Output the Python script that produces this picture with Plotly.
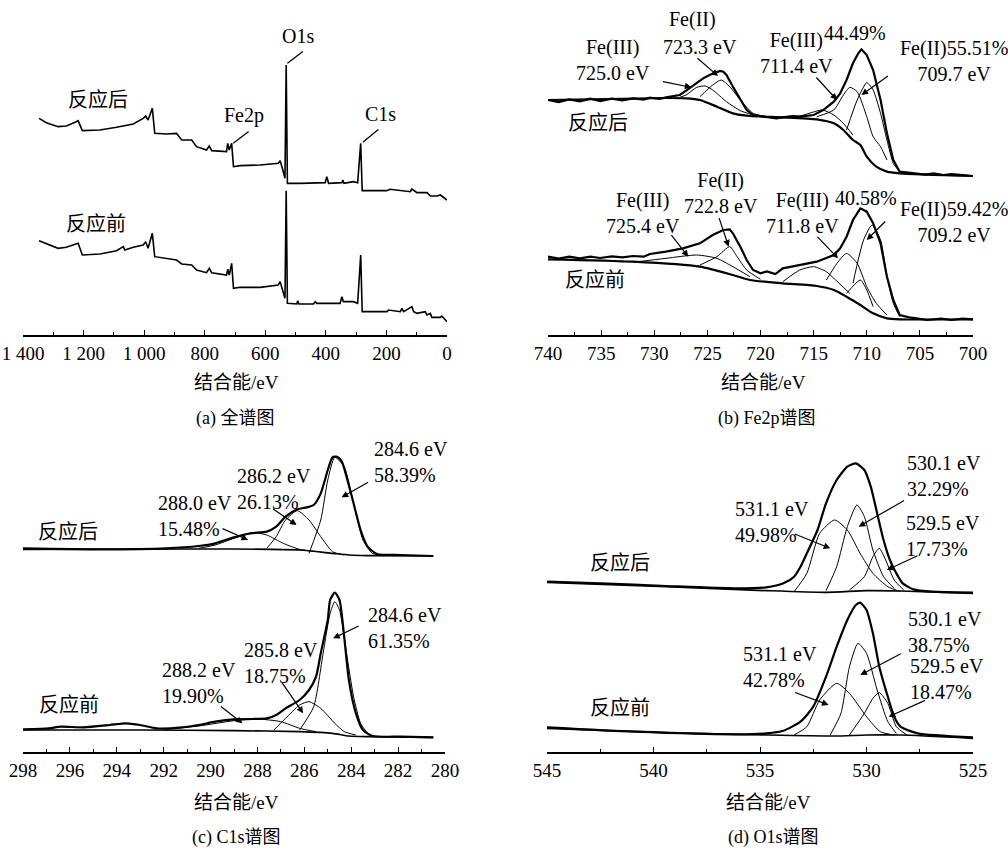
import plotly.graph_objects as go

FONT = "Liberation Serif, 'Times New Roman', 'Noto Sans CJK SC', serif"
FS = 19
FA = 20

# ---------------- (a) survey spectra ----------------
survey_be_after = [1347, 1323, 1284, 1257, 1224, 1218, 1204, 1146, 1091, 1036, 1003, 995, 987, 973, 965, 926, 893, 876, 843, 827, 794, 785, 777, 728, 724, 719, 711, 705, 683, 617, 557, 551, 542, 535, 531, 527, 485, 402, 397, 391, 347, 344, 340, 309, 295, 285, 280, 199, 188, 154, 121, 116, 99, 66, 55, 33, 22, 0]
survey_int_after = [645, 632, 620, 622, 635, 638, 608, 610, 618, 628, 645, 652, 640, 675, 600, 598, 600, 580, 580, 560, 550, 562, 548, 545, 570, 550, 570, 500, 503, 505, 510, 518, 490, 465, 805, 450, 450, 452, 470, 450, 452, 460, 450, 455, 452, 570, 428, 428, 432, 428, 425, 433, 422, 422, 412, 412, 415, 400]
survey_be_before = [1347, 1323, 1284, 1257, 1224, 1218, 1204, 1146, 1091, 1069, 1064, 1036, 1003, 995, 987, 973, 965, 926, 893, 876, 843, 827, 794, 785, 777, 728, 724, 719, 711, 705, 683, 617, 557, 551, 542, 535, 531, 527, 496, 493, 489, 441, 435, 430, 353, 347, 342, 309, 295, 285, 280, 198, 193, 154, 149, 143, 116, 110, 99, 72, 66, 55, 50, 22, 17, 0]
survey_int_before = [278, 270, 255, 258, 268, 270, 235, 238, 248, 260, 250, 258, 265, 275, 255, 300, 230, 225, 220, 208, 205, 190, 182, 195, 182, 175, 192, 175, 210, 135, 138, 138, 145, 155, 130, 105, 428, 90, 88, 98, 88, 88, 95, 90, 90, 110, 95, 95, 90, 235, 65, 65, 70, 65, 75, 65, 80, 65, 60, 65, 55, 60, 48, 48, 52, 35]

# ---------------- (b) Fe2p ----------------
fe_data_be_after = [740.0, 739, 738, 737, 736, 735.1, 734, 733, 732.0, 731, 730.4, 729.5, 728.9, 728.2, 727.6, 727.0, 726.7, 726.0, 725.4, 724.8, 724.1, 723.8, 723.5, 723.2, 722.6, 721.9, 721.3, 720.7, 719.4, 718.5, 717.9, 717, 716.3, 715.0, 714.1, 713.1, 712.5, 711.9, 711.3, 710.8, 710.5, 710.0, 709.4, 708.7, 708.1, 707.5, 706.9, 706, 705.3, 704.5, 703.7, 702.8, 702, 701, 700.0]
fe_data_int_after = [700, 694, 702, 696, 704, 697, 704, 699, 705, 701, 707, 703, 708, 712, 715, 728, 735, 750, 765, 775, 782, 787, 785, 775, 740, 700, 670, 655, 650, 645, 648, 652, 650, 655, 670, 695, 720, 760, 810, 840, 852, 835, 790, 700, 600, 520, 485, 482, 480, 476, 480, 475, 478, 474, 472]
fe_bg_be_after = [740, 728.9, 727, 725.7, 724.1, 722.6, 721.0, 717.9, 714.7, 713.1, 712.2, 711.3, 710.6, 710.0, 709.1, 708.1, 706.9, 700]
fe_bg_int_after = [700, 706, 705, 700, 680, 660, 652, 648, 642, 630, 610, 580, 565, 530, 500, 485, 480, 472]
fe_c1_be_after = [727.6, 727.0, 726.0, 725.2, 724.5, 723.2, 721.9, 720.7]
fe_c1_int_after = [708, 715, 738, 742, 730, 695, 668, 655]
fe_c2_be_after = [725.7, 724.5, 723.7, 722.9, 721.9, 720.7, 719.4]
fe_c2_int_after = [710, 745, 760, 740, 700, 660, 650]
fe_c3_be_after = [717.9, 716.3, 714.2, 713.1, 712.2, 711.3]
fe_c3_int_after = [650, 652, 670, 655, 630, 595]
fe_c4_be_after = [714.7, 713.1, 712.2, 711.6, 710.9, 710.0, 709.4, 708.7, 708.1]
fe_c4_int_after = [650, 670, 715, 738, 725, 650, 590, 560, 520]
fe_c5_be_after = [711.9, 710.9, 710.0, 709.4, 708.7, 708.1, 707.5, 706.9]
fe_c5_int_after = [610, 700, 752, 730, 660, 580, 510, 485]

fe_data_be_before = [740, 739, 738, 737, 736, 735.1, 734, 733, 732.0, 731, 730.4, 728.9, 727.3, 725.7, 724.5, 723.5, 722.9, 722.6, 721.9, 721.3, 720.7, 720, 719.4, 718.6, 717.9, 716.3, 714.7, 713.1, 712.5, 711.9, 711.3, 710.6, 710.0, 709.4, 708.7, 708.1, 707.5, 706.9, 706, 705.3, 704.3, 703, 702, 701, 700]
fe_data_int_before = [230, 224, 230, 225, 230, 226, 231, 228, 232, 230, 238, 245, 255, 270, 295, 310, 312, 300, 260, 220, 190, 180, 186, 178, 195, 205, 215, 235, 255, 290, 340, 375, 365, 330, 270, 170, 100, 55, 48, 45, 40, 44, 40, 44, 42]
fe_bg_be_before = [740, 732, 725.7, 722.6, 721.0, 717.9, 714.7, 713.1, 711.9, 710.6, 709.4, 708.1, 706.9, 700]
fe_bg_int_before = [222, 215, 200, 175, 160, 150, 142, 130, 110, 85, 60, 45, 42, 42]
fe_c1_be_before = [732, 728.9, 726.0, 724.1, 722.6, 721.0]
fe_c1_int_before = [213, 225, 235, 225, 200, 170]
fe_c2_be_before = [725.7, 724.1, 722.9, 722.2, 721.3, 720.0]
fe_c2_int_before = [205, 230, 260, 230, 190, 162]
fe_c3_be_before = [717.9, 716.3, 715.0, 713.8, 713.1, 711.6]
fe_c3_int_before = [155, 190, 200, 185, 165, 120]
fe_c4_be_before = [713.8, 712.8, 711.9, 710.9, 710.0, 709.1, 708.1]
fe_c4_int_before = [160, 210, 240, 210, 140, 90, 55]
fe_c5_be_before = [711.9, 710.6, 710.0, 709.4]
fe_c5_int_before = [120, 160, 130, 80]
fe_c6_be_before = [711.3, 710.3, 709.5, 708.7, 708.1, 707.5, 706.9]
fe_c6_int_before = [150, 280, 325, 280, 170, 90, 50]

# ---------------- (c) C1s ----------------
c_env_be_after = [298, 294.7, 291.9, 290.5, 289.8, 289.0, 288.3, 287.6, 287.2, 286.8, 286.3, 285.9, 285.6, 285.3, 285.0, 284.8, 284.6, 284.4, 284.2, 283.9, 283.6, 283.3, 282.9, 281.9, 280.5]
c_env_int_after = [615, 612, 615, 622, 630, 648, 660, 665, 680, 710, 732, 738, 745, 780, 850, 888, 890, 875, 830, 750, 670, 620, 598, 595, 592]
c_bg_be_after = [298, 291, 289, 286.2, 284.8, 284.1, 283.3, 280.5]
c_bg_int_after = [612, 613, 613, 610, 600, 595, 593, 592]
c_p1_be_after = [290.5, 289.8, 289.0, 288.2, 287.6, 286.9, 286.2, 285.5]
c_p1_int_after = [615, 625, 645, 662, 655, 630, 612, 605]
c_p2_be_after = [287.6, 287.2, 286.8, 286.3, 285.8, 285.3, 284.8, 284.3]
c_p2_int_after = [615, 650, 700, 728, 700, 650, 605, 595]
c_p3_be_after = [285.8, 285.3, 285.0, 284.7, 284.3, 283.9, 283.5, 283.1, 282.6]
c_p3_int_after = [600, 700, 820, 888, 860, 750, 640, 600, 593]

c_env_be_before = [298, 296.9, 296.4, 295.4, 294.3, 293.6, 293.0, 292.3, 291.2, 290.5, 289.8, 289.0, 288.2, 287.6, 287.2, 286.8, 286.2, 285.8, 285.5, 285.3, 285.0, 284.9, 284.7, 284.5, 284.3, 284.1, 283.8, 283.5, 283.1, 281.9, 280.5]
c_env_int_before = [72, 75, 80, 78, 85, 90, 85, 75, 78, 85, 95, 102, 103, 105, 115, 135, 160, 190, 230, 300, 400, 460, 482, 460, 350, 220, 120, 70, 52, 50, 48]
c_bg_be_before = [298, 293, 289, 286.2, 284.8, 284.1, 283.3, 280.5]
c_bg_int_before = [70, 70, 68, 65, 60, 52, 50, 48]
c_p1_be_before = [292, 290.5, 289.0, 288.0, 287.0, 286.2, 285.5]
c_p1_int_before = [72, 82, 98, 103, 95, 75, 65]
c_p2_be_before = [287.3, 286.8, 286.2, 285.8, 285.3, 284.7, 284.3, 283.8]
c_p2_int_before = [70, 105, 145, 155, 135, 90, 65, 55]
c_p3_be_before = [286.2, 285.6, 285.2, 284.9, 284.7, 284.5, 284.2, 283.9, 283.6, 283.3]
c_p3_int_before = [70, 140, 300, 420, 455, 430, 300, 170, 90, 60]

# ---------------- (d) O1s ----------------
o_env_be_after = [545, 542.5, 539.4, 536.2, 534.7, 533.9, 533.4, 533.1, 532.8, 532.3, 531.9, 531.4, 530.9, 530.5, 530.1, 529.8, 529.5, 529.2, 528.9, 528.6, 528.3, 527.8, 526.9, 525]
o_env_int_after = [515, 510, 502, 495, 498, 510, 530, 560, 600, 670, 750, 820, 860, 870, 850, 800, 720, 640, 580, 540, 510, 492, 485, 482]
o_bg_be_after = [545, 539.4, 534.7, 531.9, 530.0, 528.4, 525]
o_bg_int_after = [513, 500, 488, 483, 488, 487, 480]
o_p1_be_after = [533.4, 532.8, 532.2, 531.5, 530.9, 530.3, 529.7, 529.0, 528.4]
o_p1_int_after = [485, 540, 660, 700, 670, 600, 540, 500, 485]
o_p2_be_after = [531.9, 531.4, 530.9, 530.45, 530.1, 529.7, 529.2, 528.7]
o_p2_int_after = [488, 560, 680, 745, 710, 610, 530, 495]
o_p3_be_after = [530.8, 530.1, 529.7, 529.4, 529.1, 528.7, 528.25]
o_p3_int_after = [490, 530, 590, 615, 580, 520, 490]

o_env_be_before = [545, 540.9, 536.2, 534.7, 533.9, 533.1, 532.5, 531.9, 531.4, 530.9, 530.5, 530.3, 530.0, 529.7, 529.4, 529.0, 528.7, 528.4, 527.6, 525]
o_env_int_before = [78, 65, 57, 60, 68, 95, 140, 230, 320, 400, 445, 452, 430, 360, 260, 170, 110, 80, 60, 48]
o_bg_be_before = [545, 539.4, 534.7, 531.5, 530.0, 528.4, 525]
o_bg_int_before = [75, 62, 55, 52, 55, 55, 45]
o_p1_be_before = [533.4, 532.8, 532.2, 531.4, 530.8, 530.0, 529.35, 528.7]
o_p1_int_before = [55, 80, 160, 210, 180, 110, 65, 55]
o_p2_be_before = [531.7, 531.2, 530.8, 530.4, 530.0, 529.5, 529.0, 528.6]
o_p2_int_before = [55, 120, 260, 330, 300, 190, 95, 60]
o_p3_be_before = [530.8, 530.1, 529.7, 529.4, 529.0, 528.6, 528.1]
o_p3_int_before = [55, 120, 165, 182, 150, 80, 55]

# ---------------- figure ----------------
fig = go.Figure()

def add(x, y, ax, width=1.0, shape="spline"):
    fig.add_trace(go.Scatter(x=x, y=y, mode="lines", xaxis="x" + ax, yaxis="y" + ax,
                             line=dict(color="black", width=width, shape=shape, smoothing=0.6),
                             showlegend=False, hoverinfo="skip"))

# (a)
add(survey_be_after, survey_int_after, "", 1.6, "linear")
add(survey_be_before, survey_int_before, "", 1.6, "linear")
# (b)
add(fe_bg_be_after, fe_bg_int_after, "2", 2.2)
for xs, ys in [(fe_c1_be_after, fe_c1_int_after), (fe_c2_be_after, fe_c2_int_after),
               (fe_c3_be_after, fe_c3_int_after), (fe_c4_be_after, fe_c4_int_after),
               (fe_c5_be_after, fe_c5_int_after)]:
    add(xs, ys, "2", 1.0)
add(fe_data_be_after, fe_data_int_after, "2", 2.2, "linear")
add(fe_bg_be_before, fe_bg_int_before, "2", 2.2)
for xs, ys in [(fe_c1_be_before, fe_c1_int_before), (fe_c2_be_before, fe_c2_int_before),
               (fe_c3_be_before, fe_c3_int_before), (fe_c4_be_before, fe_c4_int_before),
               (fe_c5_be_before, fe_c5_int_before), (fe_c6_be_before, fe_c6_int_before)]:
    add(xs, ys, "2", 1.0)
add(fe_data_be_before, fe_data_int_before, "2", 2.2, "linear")
# (c)
add(c_bg_be_after, c_bg_int_after, "3", 1.6)
for xs, ys in [(c_p1_be_after, c_p1_int_after), (c_p2_be_after, c_p2_int_after), (c_p3_be_after, c_p3_int_after)]:
    add(xs, ys, "3", 1.0)
add(c_env_be_after, c_env_int_after, "3", 2.2)
add(c_bg_be_before, c_bg_int_before, "3", 1.6)
for xs, ys in [(c_p1_be_before, c_p1_int_before), (c_p2_be_before, c_p2_int_before), (c_p3_be_before, c_p3_int_before)]:
    add(xs, ys, "3", 1.0)
add(c_env_be_before, c_env_int_before, "3", 2.2)
# (d)
add(o_bg_be_after, o_bg_int_after, "4", 1.6)
for xs, ys in [(o_p1_be_after, o_p1_int_after), (o_p2_be_after, o_p2_int_after), (o_p3_be_after, o_p3_int_after)]:
    add(xs, ys, "4", 1.0)
add(o_env_be_after, o_env_int_after, "4", 2.2)
add(o_bg_be_before, o_bg_int_before, "4", 1.6)
for xs, ys in [(o_p1_be_before, o_p1_int_before), (o_p2_be_before, o_p2_int_before), (o_p3_be_before, o_p3_int_before)]:
    add(xs, ys, "4", 1.0)
add(o_env_be_before, o_env_int_before, "4", 2.2)

W, H = 1008, 848

def xax(dom, rng, dtick, minor, anchor, tickvals=None, ticktext=None):
    d = dict(domain=[dom[0] / W, dom[1] / W], range=rng, anchor=anchor, showline=True,
             linecolor="black", linewidth=1.5, ticks="inside", ticklen=5, tickwidth=1.3,
             tickcolor="black", showgrid=False, zeroline=False, ticklabelstandoff=0,
             automargin=False,
             tickfont=dict(family=FONT, size=FS, color="black"),
             minor=dict(dtick=minor, ticks="inside", ticklen=3, tickwidth=1.2, tickcolor="black", showgrid=False))
    if tickvals is not None:
        d.update(tickmode="array", tickvals=tickvals, ticktext=ticktext)
    else:
        d.update(dtick=dtick, tick0=0)
    return d

def yax(top, bottom, rng, anchor):
    return dict(domain=[1 - bottom / H, 1 - top / H], range=rng, visible=False,
                showgrid=False, zeroline=False, anchor=anchor, automargin=False)

survey_ticks = [1400, 1200, 1000, 800, 600, 400, 200, 0]
survey_labels = ["1 400", "1 200", "1 000", "800", "600", "400", "200", "0"]

ann = []

def txt(x, y, s, ax, size=FA, xanchor="center", align="center"):
    ann.append(dict(x=x, y=y, xref="x" + ax, yref="y" + ax, text=s, showarrow=False,
                    xanchor=xanchor, yanchor="middle", align=align,
                    font=dict(family=FONT, size=size, color="black")))

def arrow(x, y, dx, dy, ax, head=2):
    ann.append(dict(x=x, y=y, xref="x" + ax, yref="y" + ax, text="", showarrow=True,
                    ax=dx, ay=dy, arrowhead=head, arrowsize=1.1, arrowwidth=1.2, arrowcolor="black"))

def ptxt(px, py, s, size=FS):
    ann.append(dict(x=px / W, y=1 - py / H, xref="paper", yref="paper", text=s, showarrow=False,
                    xanchor="center", yanchor="middle",
                    font=dict(family=FONT, size=size, color="black")))

# (a) labels
txt(491, 892, "O1s", "")
arrow(527, 810, 17, -13, "", head=0)
txt(669, 655, "Fe2p", "")
arrow(706, 570, 17, -13, "", head=0)
txt(220, 657, "C1s", "")
arrow(278, 573, 17, -14, "", head=0)
txt(1152, 700, "反应后", "")
txt(1158, 328, "反应前", "")

# (b) labels
for x, y, s in [(726.4, 942, "Fe(II)"), (725.7, 860, "723.3 eV"), (733.9, 820, "Fe(III)<br>725.0 eV"),
                (716.6, 840, "Fe(III)<br>711.4 eV"), (711.1, 902, "44.49%"),
                (701.75, 817, "Fe(II)55.51%<br>709.7 eV"),
                (735.3, 630, "反应后"),
                (723.7, 422, "Fe(II)<br>722.8 eV"), (731.05, 362, "Fe(III)<br>725.4 eV"),
                (716.05, 360, "Fe(III)<br>711.8 eV"), (710.1, 407, "40.58%"),
                (701.8, 335, "Fe(II)59.42%<br>709.2 eV"),
                (735.6, 160, "反应前")]:
    txt(x, y, s, "2")
for x, y, dx, dy in [(726.5, 738, -30, -6), (724.0, 772, -22, -19), (712.8, 700, -22, -24),
                     (710.5, 715, 28, -20), (726.8, 230, -18, -23), (723.0, 260, -10, -30),
                     (712.7, 225, -22, -23), (710.0, 280, 20, -20)]:
    arrow(x, y, dx, dy, "2")

# (c) labels (left aligned blocks)
for x, y, s in [(283.13, 875, "284.6 eV<br>58.39%"), (288.96, 793, "286.2 eV<br>26.13%"),
                (292.34, 713, "288.0 eV<br>15.48%"),
                (283.39, 375, "284.6 eV<br>61.35%"), (288.64, 272, "285.8 eV<br>18.75%"),
                (292.14, 212, "288.2 eV<br>19.90%")]:
    txt(x, y, s, "3", xanchor="left", align="left")
txt(296.08, 665, "反应后", "3")
txt(296.04, 145, "反应前", "3")
for x, y, dx, dy in [(284.41, 768, 28, -16), (286.33, 685, -25, -17), (288.4, 640, -27, -12),
                     (284.77, 345, 27, -13), (286.05, 120, -22, -32), (288.64, 90, -23, -18)]:
    arrow(x, y, dx, dy, "3")

# (d) labels (left aligned blocks)
for x, y, s in [(528.18, 832, "530.1 eV<br>32.29%"), (536.27, 695, "531.1 eV<br>49.98%"),
                (528.22, 653, "529.5 eV<br>17.73%"),
                (528.13, 365, "530.1 eV<br>38.75%"), (535.89, 259, "531.1 eV<br>42.78%"),
                (528.07, 222, "529.5 eV<br>18.47%")]:
    txt(x, y, s, "4", xanchor="left", align="left")
txt(541.56, 570, "反应后", "4")
txt(541.56, 135, "反应前", "4")
for x, y, dx, dy in [(530.37, 680, 47, -27), (531.70, 615, -37, -15), (529.04, 550, 32, -15),
                     (530.29, 235, 42, -22), (531.78, 145, -35, -13), (528.96, 110, 38, -17)]:
    arrow(x, y, dx, dy, "4")

# axis titles and captions
ptxt(236, 383, "结合能/eV")
ptxt(763, 383, "结合能/eV")
ptxt(236, 802, "结合能/eV")
ptxt(768, 802, "结合能/eV")
ptxt(235, 418, "(a) 全谱图", 18)
ptxt(767, 418, "(b) Fe2p谱图", 18)
ptxt(236, 837, "(c) C1s谱图", 18)
ptxt(773, 837, "(d) O1s谱图", 18)

fig.update_layout(
    width=W, height=H, margin=dict(l=0, r=0, t=0, b=0, pad=0, autoexpand=False),
    paper_bgcolor="white", plot_bgcolor="white", showlegend=False,
    xaxis=xax((23, 447), [1400, 0], 200, 100, "y", survey_ticks, survey_labels),
    yaxis=yax(0, 335, [-5, 1000], "x"),
    xaxis2=xax((548, 973), [740, 700], 5, 2.5, "y2"),
    yaxis2=yax(0, 335, [-5, 1000], "x2"),
    xaxis3=xax((23, 445), [298, 280], 2, 1, "y3"),
    yaxis3=yax(420, 752, [4, 1000], "x3"),
    xaxis4=xax((547, 973), [545, 525], 5, 2.5, "y4"),
    yaxis4=yax(420, 752, [4, 1000], "x4"),
    annotations=ann,
)

fig.write_html("out.html", config={"displayModeBar": False},
               post_script="document.body.style.margin='0';document.body.style.overflow='hidden';")
